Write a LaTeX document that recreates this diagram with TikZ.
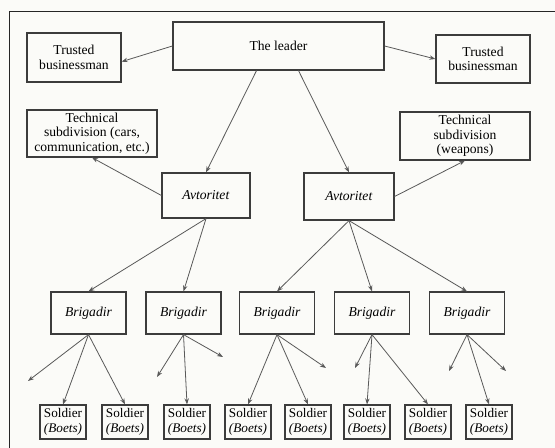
\documentclass[tikz,border=0pt]{standalone}
\usepackage{fontspec}
\setmainfont{Liberation Serif}
\usetikzlibrary{arrows.meta}
\definecolor{paper}{HTML}{FBFBF8}
\definecolor{ink}{HTML}{3C3C3C}
\begin{document}
\begin{tikzpicture}[x=0.5pt,y=-0.5pt,
  box/.style={draw=ink,line width=0.6pt,inner sep=0pt,align=center,
    font=\fontsize{6.8}{7.3}\selectfont},
  brig/.style={box,minimum width=37.5pt,minimum height=21pt},
  sold/.style={box,minimum width=23pt,minimum height=17pt,
    font=\fontsize{6.6}{7.6}\selectfont},
  arr/.style={draw=ink!85,line width=0.4pt,-{Stealth[length=3pt,width=2.2pt]}}]
\fill[paper] (0,0) rectangle (555,448);
\useasboundingbox (0,0) rectangle (555,448);
\draw[line width=0.8pt,black!85] (9.5,448)--(9.5,11.5)--(555,11.5);

% top level
\node[box,minimum width=105.5pt,minimum height=24pt] (lead) at (278.5,46) {The leader};
\node[box,minimum width=47pt,minimum height=24.5pt] (tbl) at (74,57.5) {Trusted\\businessman};
\node[box,minimum width=47pt,minimum height=24pt] (tbr) at (483,59) {Trusted\\businessman};
\node[box,minimum width=65pt,minimum height=23.5pt] (tcl) at (92,133.5) {Technical\\subdivision (cars,\\communication, etc.)};
\node[box,minimum width=65pt,minimum height=24pt] (tcr) at (465,136) {Technical\\subdivision\\(weapons)};
\node[box,minimum width=44pt,minimum height=22.5pt] (avl) at (206,195.5) {\textit{Avtoritet}};
\node[box,minimum width=45pt,minimum height=23.5pt] (avr) at (349,196.5) {\textit{Avtoritet}};

\foreach \x [count=\i] in {88.5,183.5,277,372,467}
{
  \node[brig] (b\i) at (\x,313) {\textit{Brigadir}};
}
\foreach \x [count=\i] in {63,125,187,248,308,367,428,489}
{
  \node[sold] (s\i) at (\x,422) {Soldier\\\textit{(Boets)}};
}

% loose ends
\coordinate (f1) at (28,381);
\coordinate (f2) at (157,377);
\coordinate (f3) at (223,357);
\coordinate (f4) at (326,368);
\coordinate (f5) at (355,368);
\coordinate (f6) at (449,371);
\coordinate (f7) at (506,371);

\draw[arr] (lead.west) -- (tbl.-5);
\draw[arr] (lead.east) -- (tbr.west);
\draw[arr] ([xshift=-11pt]lead.south) -- (avl.north);
\draw[arr] ([xshift=10pt]lead.south) -- (avr.north);
\draw[arr] (avl.west) -- (tcl.south);
\draw[arr] (avr.east) -- (tcr.south);

\foreach \b in {1,2}
  \draw[arr] (avl.south) -- (b\b.north);
\foreach \b in {3,4,5}
  \draw[arr] (avr.south) -- (b\b.north);

\draw[arr] (b1.south) -- (f1);
\draw[arr] (b1.south) -- (s1.north);
\draw[arr] (b1.south) -- (s2.north);

\draw[arr] (b2.south) -- (f2);
\draw[arr] (b2.south) -- (s3.north);
\draw[arr] (b2.south) -- (f3);

\draw[arr] (b3.south) -- (s4.north);
\draw[arr] (b3.south) -- (s5.north);
\draw[arr] (b3.south) -- (f4);

\draw[arr] (b4.south) -- (f5);
\draw[arr] (b4.south) -- (s6.north);
\draw[arr] (b4.south) -- (s7.north);

\draw[arr] (b5.south) -- (f6);
\draw[arr] (b5.south) -- (s8.north);
\draw[arr] (b5.south) -- (f7);
\end{tikzpicture}
\end{document}
